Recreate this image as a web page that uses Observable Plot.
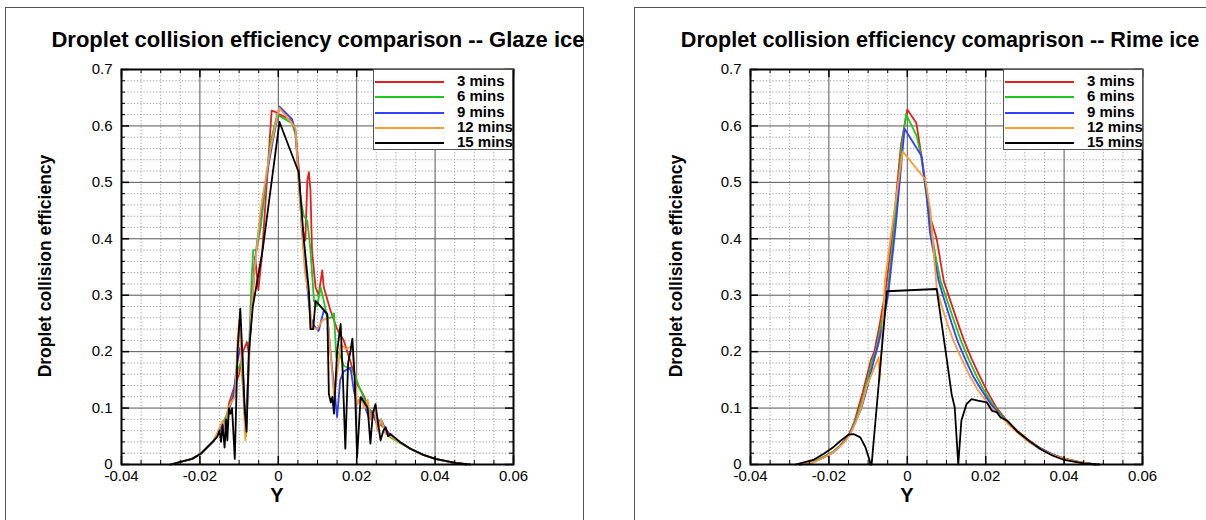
<!DOCTYPE html>
<html><head><meta charset="utf-8">
<script src="https://cdn.jsdelivr.net/npm/d3@7"></script>
<script src="https://cdn.jsdelivr.net/npm/@observablehq/plot@0.6"></script>
<style>
body{margin:0;width:1206px;height:520px;background:#fff;position:relative;overflow:hidden;font-family:"Liberation Sans",Arial,sans-serif;color:#000;}
.panel{position:absolute;top:7px;height:530px;border:1.5px solid #555;border-bottom:none;box-sizing:border-box;}
.t{position:absolute;transform:translate(-50%,-50%);white-space:nowrap;font-weight:bold;}
.title{font-size:22px;}
.ylab{font-size:17.5px;transform:translate(-50%,-50%) rotate(-90deg);}
.xlab{font-size:20px;}
.chart{position:absolute;top:0;width:600px;height:520px;}
.chart svg{max-width:none;}
.legend{position:absolute;background:#fff;border:1px solid #555;box-sizing:border-box;width:140px;height:81px;}
.row{position:absolute;left:0;height:16px;width:140px;}
.row .ln{position:absolute;left:1px;width:69px;height:2px;top:7px;}
.row .lb{position:absolute;left:83px;top:-1px;font-weight:bold;font-size:15px;line-height:16px;}
</style></head>
<body>
<div class="panel" style="left:5px;width:579px;"></div>
<div class="panel" style="left:634px;width:600px;"></div>
<div id="c1" class="chart" style="left:0px;"></div>
<div id="c2" class="chart" style="left:629px;"></div>
<div class="t title" style="left:318px;top:40px;">Droplet collision efficiency comparison -- Glaze ice</div>
<div class="t title" style="left:940px;top:40px;font-size:21.6px;">Droplet collision efficiency comaprison -- Rime ice</div>
<div class="t ylab" style="left:45px;top:266px;">Droplet collision efficiency</div>
<div class="t ylab" style="left:676px;top:266px;">Droplet collision efficiency</div>
<div class="t xlab" style="left:277px;top:495px;">Y</div>
<div class="t xlab" style="left:907px;top:495px;">Y</div>
<div id="lg1" class="legend" style="left:373px;top:69px;"></div>
<div id="lg2" class="legend" style="left:1003px;top:69px;"></div>
<script>
// ---- Tick labels / axis values
const xTicks = [-0.04, -0.02, 0, 0.02, 0.04, 0.06];
const yTicks = [0, 0.1, 0.2, 0.3, 0.4, 0.5, 0.6, 0.7];
const seriesNames = ["3 mins", "6 mins", "9 mins", "12 mins", "15 mins"];
const seriesColors = ["#e41f1f", "#1fc81f", "#3340ff", "#ff9a3a", "#000000"];

// ---- Glaze ice series [Y, efficiency]
const glaze3 = [[-0.0275,0],[-0.022,0.01],[-0.0198,0.019],[-0.0165,0.042],[-0.0145,0.065],[-0.013,0.09],[-0.0125,0.11],[-0.0115,0.132],[-0.01,0.16],[-0.009,0.2],[-0.008,0.217],[-0.0075,0.195],[-0.0065,0.3],[-0.0059,0.368],[-0.0051,0.309],[-0.0042,0.368],[-0.0017,0.627],[-0.0008,0.625],[0.0001,0.621],[0.0035,0.61],[0.0044,0.589],[0.0052,0.527],[0.0057,0.468],[0.0061,0.42],[0.0069,0.397],[0.0074,0.503],[0.0078,0.518],[0.0082,0.486],[0.0086,0.379],[0.0095,0.314],[0.0103,0.30],[0.0112,0.344],[0.0116,0.314],[0.0133,0.273],[0.015,0.24],[0.0167,0.22],[0.0185,0.18],[0.0201,0.143],[0.0218,0.122],[0.023,0.1],[0.024,0.09],[0.025,0.075],[0.0262,0.07],[0.0275,0.062],[0.0286,0.052],[0.031,0.04],[0.0337,0.028],[0.037,0.017],[0.04,0.01],[0.044,0.004],[0.048,0]];
const glaze6 = [[-0.0275,0],[-0.022,0.01],[-0.0198,0.019],[-0.0165,0.042],[-0.0145,0.066],[-0.013,0.09],[-0.012,0.11],[-0.011,0.14],[-0.0103,0.17],[-0.0095,0.18],[-0.0088,0.12],[-0.0082,0.05],[-0.0075,0.2],[-0.0068,0.33],[-0.0064,0.38],[-0.0055,0.38],[-0.0045,0.42],[-0.002,0.57],[-0.0003,0.62],[0.0035,0.605],[0.0044,0.585],[0.0055,0.48],[0.0065,0.44],[0.0074,0.432],[0.0082,0.38],[0.0091,0.29],[0.0099,0.28],[0.0108,0.314],[0.0116,0.29],[0.0125,0.26],[0.0134,0.26],[0.0142,0.268],[0.0148,0.19],[0.0155,0.2],[0.0167,0.175],[0.018,0.17],[0.0195,0.16],[0.0205,0.14],[0.022,0.115],[0.023,0.1],[0.0242,0.088],[0.0255,0.08],[0.027,0.065],[0.0286,0.048],[0.031,0.038],[0.0337,0.028],[0.037,0.017],[0.04,0.01],[0.044,0.004],[0.048,0]];
const glaze9 = [[-0.0275,0],[-0.022,0.01],[-0.0198,0.019],[-0.0165,0.042],[-0.015,0.06],[-0.014,0.075],[-0.0132,0.06],[-0.0125,0.1],[-0.0115,0.12],[-0.0105,0.18],[-0.0097,0.208],[-0.0091,0.19],[-0.0084,0.06],[-0.0078,0.14],[-0.007,0.26],[-0.006,0.36],[-0.004,0.47],[-0.0015,0.57],[0.0003,0.634],[0.0035,0.612],[0.0044,0.59],[0.005,0.53],[0.006,0.42],[0.007,0.34],[0.0082,0.261],[0.0092,0.245],[0.0103,0.237],[0.0116,0.273],[0.0125,0.265],[0.0133,0.2],[0.0142,0.14],[0.015,0.084],[0.0158,0.15],[0.0167,0.165],[0.0184,0.172],[0.0193,0.13],[0.0201,0.107],[0.0212,0.12],[0.0222,0.1],[0.0232,0.082],[0.024,0.095],[0.0252,0.07],[0.0262,0.08],[0.0275,0.06],[0.0288,0.05],[0.031,0.04],[0.0337,0.028],[0.037,0.017],[0.04,0.01],[0.044,0.004],[0.048,0]];
const glaze12 = [[-0.0275,0],[-0.022,0.01],[-0.0198,0.019],[-0.0165,0.042],[-0.015,0.065],[-0.0142,0.078],[-0.0135,0.06],[-0.0128,0.1],[-0.012,0.11],[-0.011,0.12],[-0.0104,0.22],[-0.01,0.255],[-0.0095,0.2],[-0.0089,0.12],[-0.0084,0.043],[-0.0078,0.12],[-0.007,0.26],[-0.006,0.35],[-0.0045,0.45],[-0.002,0.56],[0.0002,0.632],[0.0035,0.605],[0.0044,0.595],[0.0052,0.5],[0.006,0.42],[0.0068,0.34],[0.0078,0.3],[0.0086,0.243],[0.0099,0.24],[0.0112,0.255],[0.0125,0.26],[0.0133,0.2],[0.0142,0.119],[0.015,0.16],[0.0159,0.213],[0.0172,0.205],[0.0189,0.21],[0.0196,0.15],[0.0201,0.107],[0.021,0.12],[0.022,0.1],[0.0228,0.115],[0.0235,0.08],[0.0245,0.1],[0.0253,0.06],[0.0262,0.08],[0.0273,0.055],[0.0286,0.05],[0.031,0.039],[0.0337,0.028],[0.037,0.017],[0.04,0.01],[0.044,0.004],[0.048,0]];
const glaze15 = [[-0.0275,0],[-0.022,0.01],[-0.0198,0.019],[-0.0165,0.042],[-0.0155,0.05],[-0.015,0.06],[-0.0146,0.04],[-0.0142,0.07],[-0.0137,0.03],[-0.0133,0.08],[-0.013,0.043],[-0.0126,0.1],[-0.0122,0.09],[-0.0118,0.1],[-0.0111,0.01],[-0.0104,0.2],[-0.0097,0.276],[-0.0092,0.2],[-0.0086,0.1],[-0.0081,0.058],[-0.0075,0.2],[-0.0065,0.28],[-0.0058,0.308],[-0.004,0.38],[0.0003,0.607],[0.0052,0.518],[0.0065,0.4],[0.0078,0.308],[0.0082,0.24],[0.0089,0.24],[0.0095,0.29],[0.0125,0.267],[0.0129,0.125],[0.0134,0.11],[0.0138,0.12],[0.0142,0.09],[0.015,0.2],[0.0159,0.249],[0.0165,0.15],[0.0171,0.028],[0.0178,0.18],[0.0184,0.2],[0.0189,0.223],[0.0195,0.15],[0.0201,0.013],[0.021,0.119],[0.022,0.11],[0.0228,0.1],[0.0235,0.037],[0.0241,0.09],[0.0248,0.107],[0.0255,0.07],[0.0261,0.043],[0.0268,0.06],[0.0274,0.066],[0.028,0.05],[0.0286,0.054],[0.031,0.04],[0.0337,0.028],[0.037,0.017],[0.0401,0.01],[0.0452,0.003],[0.049,0]];

// ---- Rime ice series [Y, efficiency]
const rime3 = [[-0.0275,0],[-0.024,0.005],[-0.0214,0.013],[-0.019,0.022],[-0.0175,0.031],[-0.016,0.043],[-0.0146,0.057],[-0.0135,0.076],[-0.0125,0.1],[-0.0114,0.127],[-0.0103,0.157],[-0.0093,0.185],[-0.0084,0.2],[-0.007,0.25],[-0.0055,0.31],[-0.0036,0.42],[-0.0016,0.567],[0,0.629],[0.0023,0.605],[0.0037,0.543],[0.0059,0.437],[0.0075,0.40],[0.0093,0.325],[0.011,0.29],[0.0127,0.255],[0.0145,0.219],[0.0165,0.186],[0.0185,0.156],[0.0203,0.131],[0.0228,0.1],[0.0254,0.078],[0.028,0.06],[0.031,0.043],[0.034,0.029],[0.037,0.018],[0.04,0.011],[0.044,0.004],[0.048,0]];
const rime6 = [[-0.0275,0],[-0.024,0.005],[-0.0214,0.013],[-0.019,0.022],[-0.0175,0.031],[-0.016,0.042],[-0.0146,0.056],[-0.0134,0.076],[-0.0121,0.1],[-0.011,0.127],[-0.0099,0.157],[-0.0089,0.185],[-0.008,0.2],[-0.0066,0.25],[-0.0051,0.3],[-0.0033,0.42],[-0.0015,0.56],[-0.0003,0.621],[0.0024,0.582],[0.0036,0.544],[0.0056,0.438],[0.0072,0.37],[0.0085,0.325],[0.0102,0.29],[0.012,0.253],[0.0137,0.219],[0.0157,0.186],[0.0177,0.156],[0.0196,0.131],[0.0217,0.107],[0.0237,0.09],[0.0254,0.077],[0.028,0.059],[0.031,0.042],[0.034,0.028],[0.037,0.018],[0.04,0.01],[0.044,0.004],[0.048,0]];
const rime9 = [[-0.0275,0],[-0.024,0.004],[-0.0214,0.012],[-0.019,0.021],[-0.0175,0.03],[-0.016,0.041],[-0.0146,0.055],[-0.0132,0.076],[-0.0117,0.1],[-0.0106,0.127],[-0.0095,0.157],[-0.0085,0.185],[-0.0075,0.21],[-0.0062,0.25],[-0.0049,0.3],[-0.003,0.42],[-0.0007,0.595],[0.0036,0.547],[0.0049,0.479],[0.0058,0.41],[0.008,0.325],[0.0095,0.29],[0.0112,0.253],[0.0128,0.219],[0.0149,0.185],[0.0169,0.155],[0.019,0.131],[0.0213,0.107],[0.0237,0.088],[0.0254,0.076],[0.028,0.058],[0.031,0.041],[0.034,0.028],[0.037,0.018],[0.04,0.01],[0.044,0.004],[0.048,0]];
const rime12 = [[-0.0275,0],[-0.024,0.004],[-0.0214,0.012],[-0.019,0.021],[-0.0175,0.03],[-0.016,0.04],[-0.0146,0.053],[-0.0132,0.074],[-0.0118,0.1],[-0.0103,0.14],[-0.0085,0.17],[-0.0073,0.19],[-0.0071,0.148],[-0.0066,0.2],[-0.0057,0.326],[-0.0035,0.44],[-0.0012,0.555],[0.0046,0.505],[0.0059,0.449],[0.0075,0.313],[0.0088,0.28],[0.0102,0.25],[0.0118,0.219],[0.014,0.185],[0.016,0.156],[0.0181,0.131],[0.021,0.104],[0.0237,0.086],[0.0254,0.074],[0.028,0.057],[0.031,0.04],[0.034,0.027],[0.037,0.017],[0.04,0.01],[0.044,0.004],[0.048,0]];
const rime15 = [[-0.0285,0],[-0.024,0.008],[-0.0213,0.019],[-0.019,0.03],[-0.017,0.042],[-0.015,0.053],[-0.0137,0.054],[-0.012,0.048],[-0.0107,0.031],[-0.0096,0.007],[-0.0094,0],[-0.0091,0],[-0.0052,0.307],[0.0075,0.311],[0.01,0.19],[0.0113,0.125],[0.0121,0.101],[0.013,0],[0.0138,0.078],[0.0151,0.107],[0.0164,0.116],[0.018,0.113],[0.0203,0.11],[0.0216,0.095],[0.0228,0.093],[0.0237,0.084],[0.0254,0.078],[0.028,0.059],[0.031,0.042],[0.034,0.027],[0.037,0.016],[0.04,0.008],[0.045,0.002],[0.049,0]];

const glazeSeries = [glaze3, glaze6, glaze9, glaze12, glaze15];
const rimeSeries = [rime3, rime6, rime9, rime12, rime15];

const fmt = d => String(+d.toFixed(3));
const minorX = d3.range(-0.04, 0.0601, 0.005).filter(v => Math.abs(Math.round(v*1000)) % 20 !== 0);
const minorY = d3.range(0, 0.7001, 0.02).filter(v => Math.round(v*100) % 10 !== 0);
const W = 600, H = 520, mL = 121, mR = 87, mT = 69, mB = 56;
const pw = W - mL - mR, ph = H - mT - mB;

function chart(series) {
  return Plot.plot({
    width: W, height: H,
    marginLeft: mL, marginRight: mR, marginTop: mT, marginBottom: mB,
    style: {fontFamily: "'Liberation Sans', Arial, sans-serif", fontSize: "15px", background: "transparent", color: "#000", overflow: "visible", maxWidth: "none"},
    x: {domain: [-0.04, 0.06]},
    y: {domain: [0, 0.7]},
    marks: [
      Plot.ruleX(minorX, {stroke: "#9a9a9a", strokeDasharray: "1.2,2", strokeWidth: 1}),
      Plot.ruleY(minorY, {stroke: "#9a9a9a", strokeDasharray: "1.2,2", strokeWidth: 1}),
      Plot.ruleX(xTicks, {stroke: "#555", strokeWidth: 1}),
      Plot.ruleY(yTicks, {stroke: "#555", strokeWidth: 1}),
      ...series.map((s, i) => Plot.line(s, {x: d => d[0], y: d => d[1], stroke: seriesColors[i], strokeWidth: 1.8})),
      Plot.ruleX(xTicks, {stroke: "#000", strokeWidth: 1.5, insetTop: ph - 8}),
      Plot.ruleX(xTicks, {stroke: "#000", strokeWidth: 1.5, insetBottom: ph - 8}),
      Plot.ruleY(yTicks, {stroke: "#000", strokeWidth: 1.5, insetRight: pw - 8}),
      Plot.ruleY(yTicks, {stroke: "#000", strokeWidth: 1.5, insetLeft: pw - 8}),
      Plot.ruleX(minorX, {stroke: "#000", strokeWidth: 1, insetTop: ph - 4}),
      Plot.ruleX(minorX, {stroke: "#000", strokeWidth: 1, insetBottom: ph - 4}),
      Plot.ruleY(minorY, {stroke: "#000", strokeWidth: 1, insetRight: pw - 4}),
      Plot.ruleY(minorY, {stroke: "#000", strokeWidth: 1, insetLeft: pw - 4}),
      Plot.frame({stroke: "#000", strokeWidth: 2}),
      Plot.axisX(xTicks, {tickSize: 0, tickPadding: 6, tickFormat: fmt, label: null}),
      Plot.axisY(yTicks, {tickSize: 0, tickPadding: 9, tickFormat: fmt, label: null})
    ]
  });
}
document.getElementById("c1").appendChild(chart(glazeSeries));
document.getElementById("c2").appendChild(chart(rimeSeries));

function legend(id) {
  const el = document.getElementById(id);
  seriesNames.forEach((n, i) => {
    const r = document.createElement("div");
    r.className = "row";
    r.style.top = (4 + i * 15.3) + "px";
    r.innerHTML = `<span class="ln" style="background:${seriesColors[i]}"></span><span class="lb">${n}</span>`;
    el.appendChild(r);
  });
}
legend("lg1"); legend("lg2");
</script>
</body></html>
